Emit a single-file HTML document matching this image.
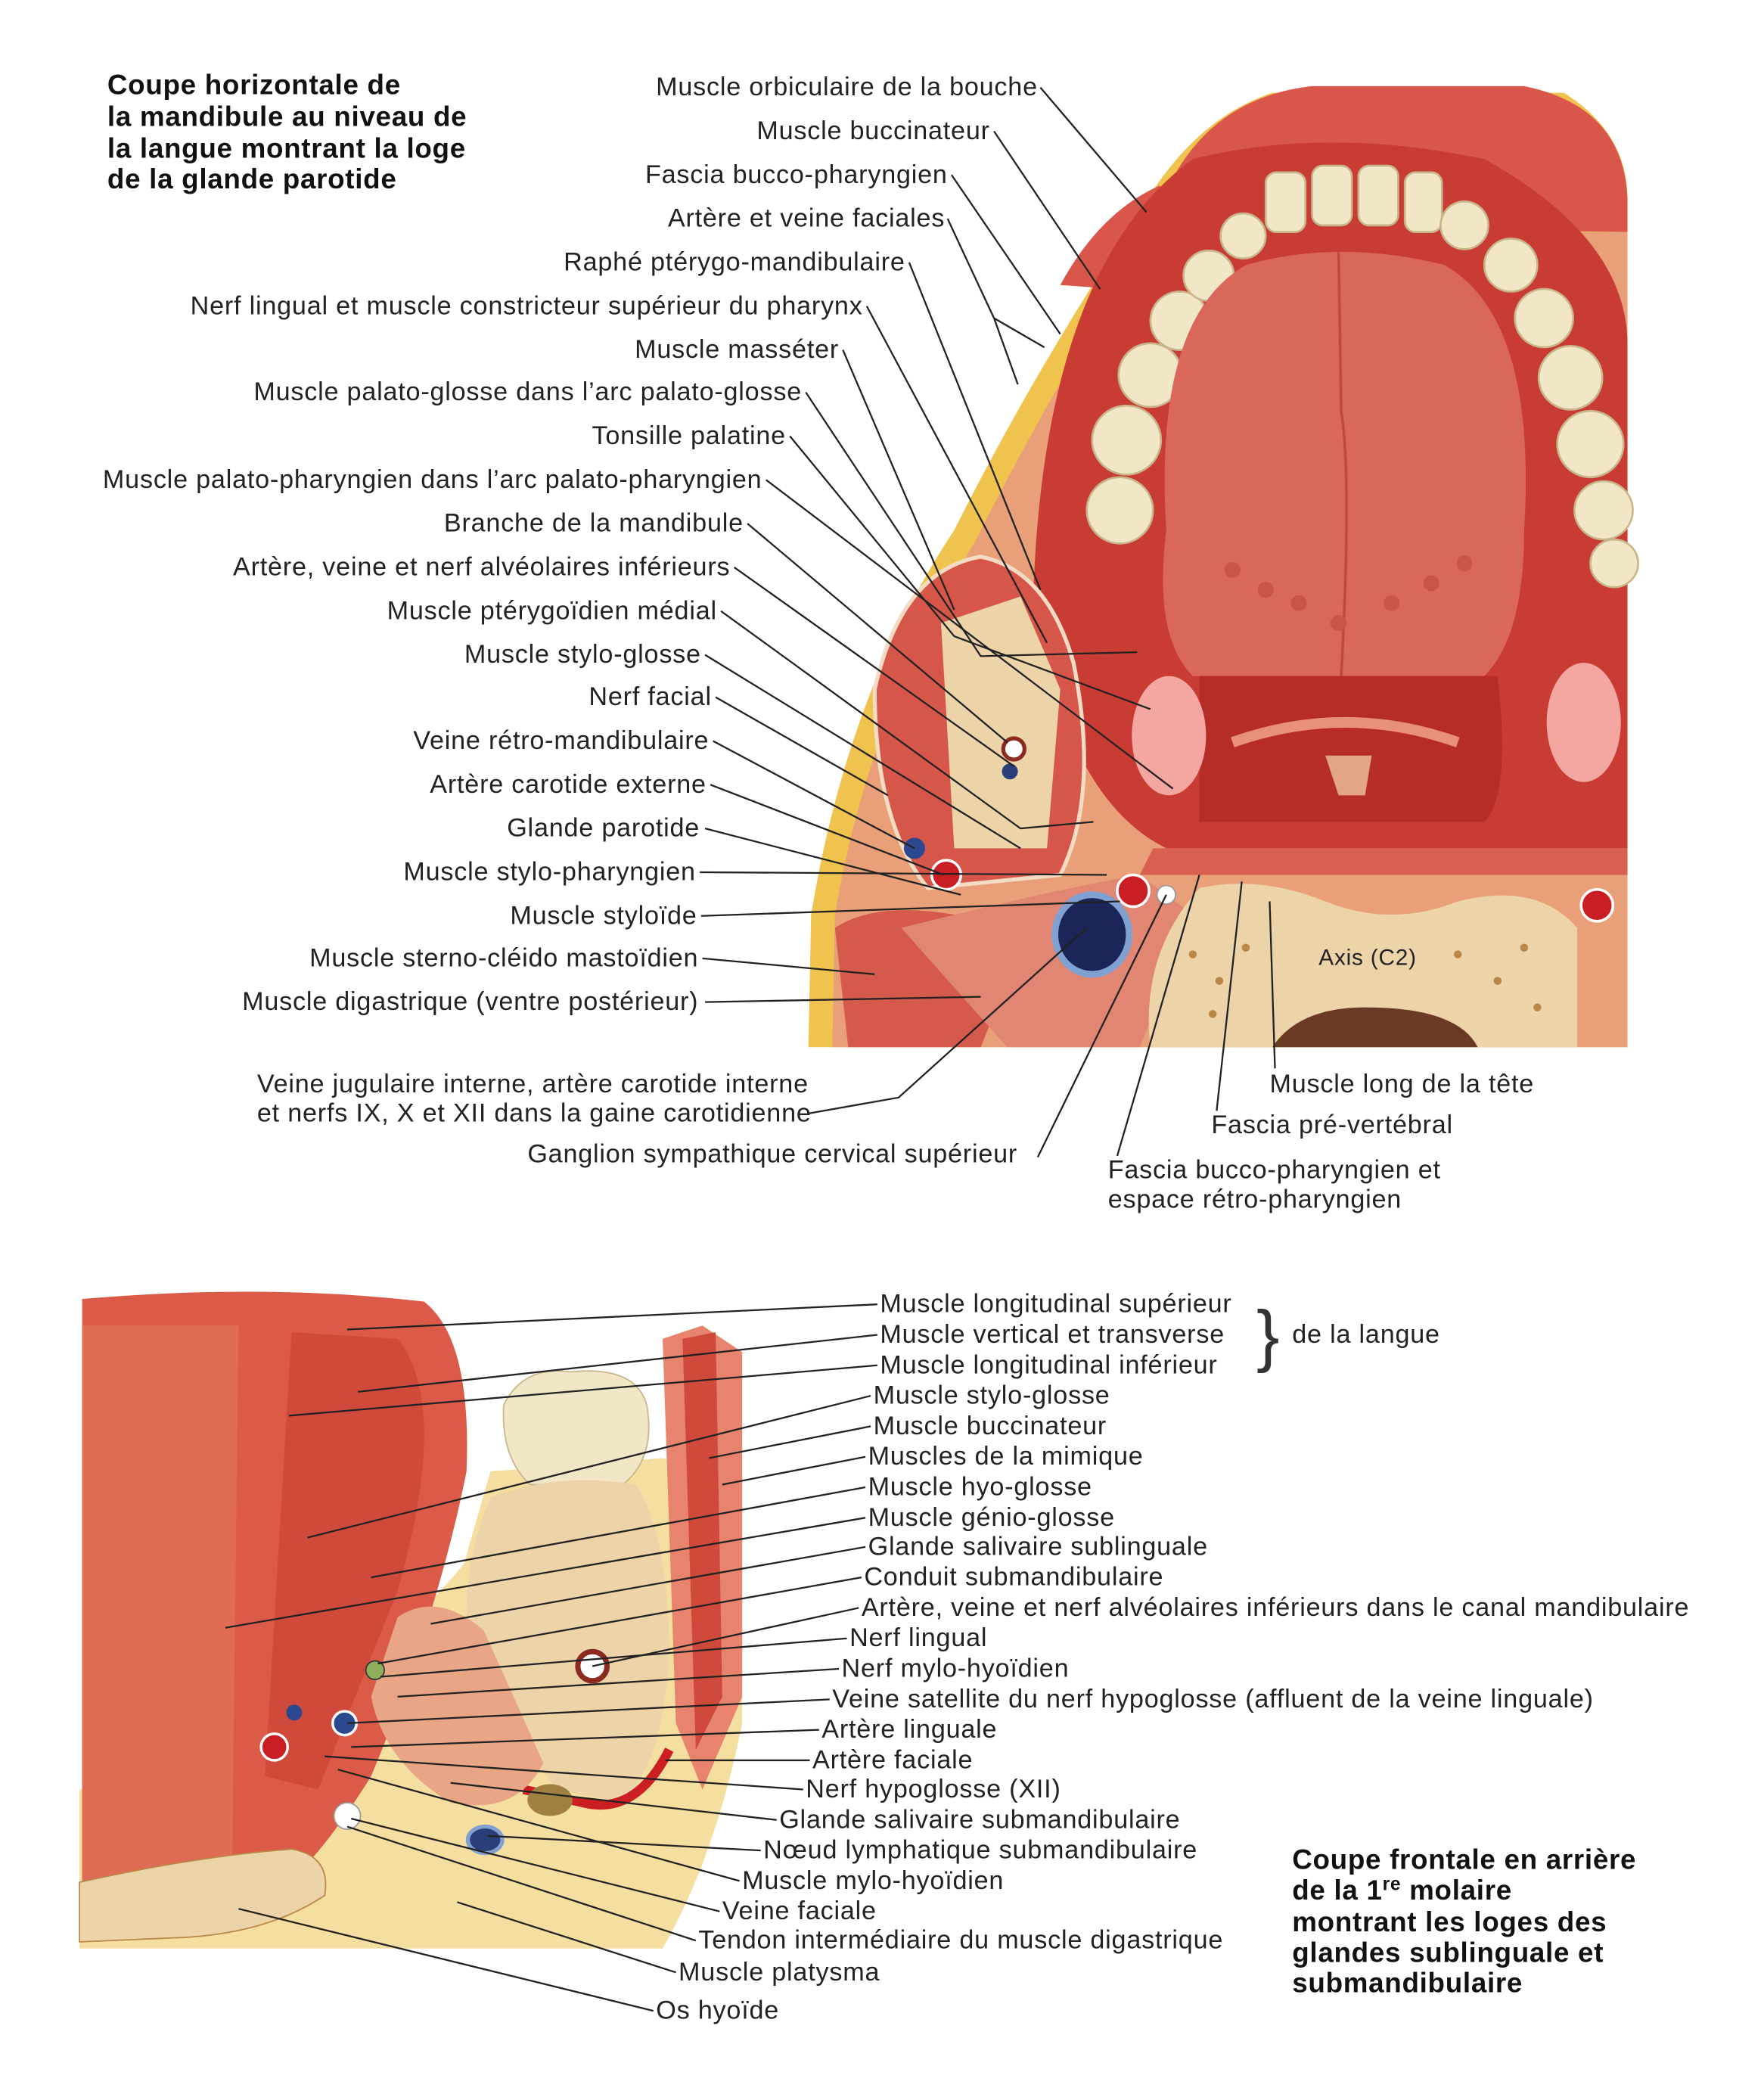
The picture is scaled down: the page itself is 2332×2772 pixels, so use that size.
<!DOCTYPE html>
<html><head><meta charset="utf-8"><style>
html,body{margin:0;padding:0;background:#fff;}
svg{display:block;}
text{font-family:"Liberation Sans",sans-serif;font-size:19.5px;letter-spacing:0.45px;fill:#222;}
.t{font-weight:bold;font-size:21px;letter-spacing:0.4px;fill:#111;}
</style></head><body>
<svg width="2332" height="2772" viewBox="0 0 1331 1582" preserveAspectRatio="none" xmlns="http://www.w3.org/2000/svg">
<rect width="1331" height="1582" fill="#fff"/>
<!-- TOP ILLUSTRATION -->
<path d="M610 790 L612 690 Q640 520 720 400 Q780 280 860 160 Q900 90 960 70 L1180 70 Q1228 100 1228 150 L1228 790 Z" fill="#f0c24e"/>
<path d="M628 790 L630 690 Q655 540 735 410 Q795 290 870 175 L1228 175 L1228 790 Z" fill="#e9a078"/>
<path d="M870 170 Q900 75 990 65 L1150 65 Q1225 80 1228 150 L1228 175 Z" fill="#d9574a"/>
<path d="M800 215 Q830 160 875 140 L900 180 L870 220 Z" fill="#d9574a"/>
<path d="M780 440 Q790 200 900 120 Q1000 95 1120 120 Q1228 180 1228 260 L1228 640 L880 640 Q800 600 780 440 Z" fill="#c93c33"/>
<g fill="#f1e6c6" stroke="#c9b58a" stroke-width="1.5">
<circle cx="845" cy="385" r="25"/><circle cx="850" cy="332" r="26"/><circle cx="868" cy="283" r="24"/>
<circle cx="890" cy="242" r="22"/><circle cx="912" cy="208" r="19"/><circle cx="938" cy="178" r="17"/>
<rect x="955" y="130" width="30" height="45" rx="8"/><rect x="990" y="125" width="30" height="45" rx="8"/>
<rect x="1025" y="125" width="30" height="45" rx="8"/><rect x="1060" y="130" width="28" height="45" rx="8"/>
<circle cx="1105" cy="170" r="18"/><circle cx="1140" cy="200" r="20"/><circle cx="1165" cy="240" r="22"/>
<circle cx="1185" cy="285" r="24"/><circle cx="1200" cy="335" r="25"/><circle cx="1210" cy="385" r="22"/><circle cx="1218" cy="425" r="18"/>
</g>
<path d="M880 400 Q870 240 940 200 Q1010 180 1090 200 Q1160 240 1150 400 Q1150 480 1120 510 L900 510 Q870 480 880 400 Z" fill="#d9675a"/>
<path d="M1010 190 L1012 310 Q1020 360 1012 510" stroke="#c0493f" stroke-width="2" fill="none"/>
<g fill="#c85548"><circle cx="930" cy="430" r="6"/><circle cx="955" cy="445" r="6"/><circle cx="980" cy="455" r="6"/><circle cx="1050" cy="455" r="6"/><circle cx="1080" cy="440" r="6"/><circle cx="1105" cy="425" r="6"/><circle cx="1010" cy="470" r="6"/></g>
<path d="M905 510 L1130 510 Q1140 600 1120 620 L905 620 Z" fill="#b62c26"/>
<path d="M930 560 Q1015 530 1100 560" stroke="#e9907a" stroke-width="8" fill="none"/>
<path d="M1000 570 L1010 600 L1030 600 L1035 570 Z" fill="#e4a486"/>
<ellipse cx="882" cy="555" rx="28" ry="45" fill="#f3a7a0"/>
<ellipse cx="1195" cy="545" rx="28" ry="45" fill="#f3a7a0"/>
<path d="M870 640 L1228 640 L1228 660 L860 660 Z" fill="#d7604f"/>
<path d="M660 520 Q680 430 740 420 Q790 430 810 500 Q830 600 800 660 L700 670 Q660 620 660 520 Z" fill="#d6574a" stroke="#f4dcc4" stroke-width="3"/>
<path d="M710 470 L770 450 L800 520 L790 640 L720 640 Z" fill="#ecd3a8"/>
<circle cx="765" cy="565" r="8" fill="#fff" stroke="#8a2a20" stroke-width="3"/>
<circle cx="762" cy="582" r="6" fill="#2a3e7a"/>
<circle cx="690" cy="640" r="8" fill="#2c4990"/>
<circle cx="714" cy="660" r="11" fill="#c81e24" stroke="#fff" stroke-width="2"/>
<path d="M630 700 Q660 680 720 690 L760 740 L740 790 L640 790 Z" fill="#d65a4c"/>
<path d="M680 700 Q800 670 860 660 L900 690 L860 790 L760 790 Z" fill="#e08672"/>
<ellipse cx="824" cy="705" rx="28" ry="30" fill="#1b2557" stroke="#7fa0d0" stroke-width="5"/>
<circle cx="855" cy="672" r="12" fill="#c81e24" stroke="#fff" stroke-width="2"/>
<circle cx="880" cy="675" r="7" fill="#fff" stroke="#999"/>
<circle cx="1205" cy="683" r="12" fill="#c81e24" stroke="#fff" stroke-width="2"/>
<path d="M905 670 Q950 660 1000 680 Q1050 700 1100 680 Q1160 665 1190 700 L1190 790 L868 790 Q860 720 905 670 Z" fill="#ecd3a8"/>
<path d="M960 790 Q980 760 1030 760 Q1100 760 1115 790 Z" fill="#6b3a24"/>
<g fill="#b98746"><circle cx="900" cy="720" r="3"/><circle cx="920" cy="740" r="3"/><circle cx="940" cy="715" r="3"/><circle cx="1100" cy="720" r="3"/><circle cx="1130" cy="740" r="3"/><circle cx="1150" cy="715" r="3"/><circle cx="915" cy="765" r="3"/><circle cx="1160" cy="760" r="3"/></g>
<text x="995" y="728" style="font-size:17px">Axis (C2)</text>

<text class="t" x="81" y="71">Coupe horizontale de</text>
<text class="t" x="81" y="95">la mandibule au niveau de</text>
<text class="t" x="81" y="119">la langue montrant la loge</text>
<text class="t" x="81" y="142">de la glande parotide</text>

<g text-anchor="end">
<text x="783" y="72">Muscle orbiculaire de la bouche</text>
<text x="747" y="105">Muscle buccinateur</text>
<text x="715" y="138">Fascia bucco-pharyngien</text>
<text x="713" y="171">Artère et veine faciales</text>
<text x="683" y="204">Raphé ptérygo-mandibulaire</text>
<text x="651" y="237">Nerf lingual et muscle constricteur supérieur du pharynx</text>
<text x="633" y="270">Muscle masséter</text>
<text x="605" y="302">Muscle palato-glosse dans l’arc palato-glosse</text>
<text x="593" y="335">Tonsille palatine</text>
<text x="575" y="368">Muscle palato-pharyngien dans l’arc palato-pharyngien</text>
<text x="561" y="401">Branche de la mandibule</text>
<text x="551" y="434">Artère, veine et nerf alvéolaires inférieurs</text>
<text x="541" y="467">Muscle ptérygoïdien médial</text>
<text x="529" y="500">Muscle stylo-glosse</text>
<text x="537" y="532">Nerf facial</text>
<text x="535" y="565">Veine rétro-mandibulaire</text>
<text x="533" y="598">Artère carotide externe</text>
<text x="528" y="631">Glande parotide</text>
<text x="525" y="664">Muscle stylo-pharyngien</text>
<text x="526" y="697">Muscle styloïde</text>
<text x="527" y="729">Muscle sterno-cléido mastoïdien</text>
<text x="527" y="762">Muscle digastrique (ventre postérieur)</text>
</g>
<text x="194" y="824">Veine jugulaire interne, artère carotide interne</text>
<text x="194" y="846">et nerfs IX, X et XII dans la gaine carotidienne</text>
<text x="398" y="877">Ganglion sympathique cervical supérieur</text>
<text x="836" y="889">Fascia bucco-pharyngien et</text>
<text x="836" y="911">espace rétro-pharyngien</text>
<text x="914" y="855">Fascia pré-vertébral</text>
<text x="958" y="824">Muscle long de la tête</text>

<g stroke="#222" stroke-width="1.3" fill="none">
<path d="M785 66 L865 160"/><path d="M750 99 L830 218"/><path d="M718 132 L800 252"/>
<path d="M715 165 L750 240 L788 262 M750 240 L768 290"/>
<path d="M686 198 L785 445"/><path d="M654 231 L790 485"/><path d="M636 264 L720 460"/>
<path d="M608 296 L740 495 L858 492"/><path d="M596 329 L720 480 L868 535"/>
<path d="M578 362 L885 595"/><path d="M564 395 L760 560"/><path d="M554 428 L765 578"/>
<path d="M544 461 L770 625 L825 620"/><path d="M532 494 L770 640"/>
<path d="M540 526 L670 600"/><path d="M538 559 L690 640"/><path d="M536 592 L712 660"/>
<path d="M532 625 L725 675"/><path d="M528 658 L835 660"/><path d="M529 691 L845 680"/>
<path d="M530 723 L660 735"/><path d="M532 756 L740 752"/>
<path d="M610 840 L678 828 L820 700"/><path d="M783 873 L880 675"/>
<path d="M843 872 L905 660"/><path d="M918 838 L937 665"/><path d="M962 806 L958 680"/>
</g>

<!-- BOTTOM ILLUSTRATION -->
<path d="M60 1470 L60 1350 Q250 1300 350 1180 L370 1110 L500 1100 L560 1120 L560 1300 Q540 1400 500 1470 Z" fill="#f5dfa0"/>
<path d="M62 980 Q200 968 320 982 Q356 1010 352 1110 Q330 1220 280 1340 Q230 1420 200 1430 L62 1440 Z" fill="#dc5a48"/>
<path d="M62 1000 L180 1000 L175 1420 L62 1430 Z" fill="#e06c56"/>
<path d="M220 1005 L300 1010 Q340 1060 300 1200 L240 1350 L200 1340 Z" fill="#d04a3c"/>
<path d="M500 1010 L530 1000 L560 1020 L560 1280 L530 1350 L510 1300 Z" fill="#e8846e"/>
<path d="M515 1010 L540 1005 L545 1280 L525 1320 Z" fill="#d04a3c"/>
<path d="M380 1060 Q395 1030 430 1035 Q480 1030 488 1060 Q495 1100 470 1120 L400 1120 Q378 1100 380 1060 Z" fill="#f1e6c6" stroke="#c9b58a"/>
<path d="M370 1130 Q420 1110 480 1120 Q505 1160 505 1250 Q500 1330 470 1360 L420 1350 L360 1270 Q340 1200 370 1130 Z" fill="#ecd3a8"/>
<path d="M505 1320 Q480 1370 440 1360 L395 1350" stroke="#cc1f24" stroke-width="7" fill="none"/>
<circle cx="447" cy="1257" r="11" fill="#fff" stroke="#8a2a20" stroke-width="4"/>
<path d="M300 1220 Q330 1200 365 1230 L410 1330 Q390 1370 340 1360 Q290 1330 280 1280 Z" fill="#e8a686"/>
<circle cx="283" cy="1260" r="7" fill="#8fae5a" stroke="#333"/>
<circle cx="260" cy="1300" r="9" fill="#2c4990" stroke="#fff" stroke-width="2"/>
<circle cx="207" cy="1318" r="10" fill="#c81e24" stroke="#fff" stroke-width="2"/>
<circle cx="222" cy="1292" r="6" fill="#2c4990"/>
<ellipse cx="366" cy="1388" rx="13" ry="10" fill="#2a3e7a" stroke="#7fa0d0" stroke-width="3"/>
<ellipse cx="415" cy="1358" rx="17" ry="12" fill="#a08040"/>
<circle cx="262" cy="1370" r="10" fill="#fff" stroke="#999"/>
<path d="M60 1420 Q150 1400 220 1395 Q250 1400 245 1430 Q200 1460 130 1462 L60 1465 Z" fill="#ecd3a8" stroke="#b98746"/>

<text x="664" y="990">Muscle longitudinal supérieur</text>
<text x="664" y="1013">Muscle vertical et transverse</text>
<text x="664" y="1036">Muscle longitudinal inférieur</text>
<text x="948" y="1025" style="font-size:52px;fill:#333;">}</text>
<text x="975" y="1013">de la langue</text>
<text x="659" y="1059">Muscle stylo-glosse</text>
<text x="659" y="1082">Muscle buccinateur</text>
<text x="655" y="1105">Muscles de la mimique</text>
<text x="655" y="1128">Muscle hyo-glosse</text>
<text x="655" y="1151">Muscle génio-glosse</text>
<text x="655" y="1173">Glande salivaire sublinguale</text>
<text x="652" y="1196">Conduit submandibulaire</text>
<text x="650" y="1219">Artère, veine et nerf alvéolaires inférieurs dans le canal mandibulaire</text>
<text x="641" y="1242">Nerf lingual</text>
<text x="635" y="1265">Nerf mylo-hyoïdien</text>
<text x="628" y="1288">Veine satellite du nerf hypoglosse (affluent de la veine linguale)</text>
<text x="620" y="1311">Artère linguale</text>
<text x="613" y="1334">Artère faciale</text>
<text x="608" y="1356">Nerf hypoglosse (XII)</text>
<text x="588" y="1379">Glande salivaire submandibulaire</text>
<text x="576" y="1402">Nœud lymphatique submandibulaire</text>
<text x="560" y="1425">Muscle mylo-hyoïdien</text>
<text x="545" y="1448">Veine faciale</text>
<text x="527" y="1470">Tendon intermédiaire du muscle digastrique</text>
<text x="512" y="1494">Muscle platysma</text>
<text x="495" y="1523">Os hyoïde</text>

<g stroke="#222" stroke-width="1.3" fill="none">
<path d="M662 984 L262 1003"/><path d="M662 1007 L270 1050"/><path d="M662 1030 L218 1068"/>
<path d="M657 1053 L232 1160"/><path d="M657 1076 L535 1100"/><path d="M653 1099 L545 1120"/>
<path d="M653 1122 L280 1190"/><path d="M653 1145 L170 1228"/><path d="M653 1167 L325 1225"/>
<path d="M650 1190 L285 1255"/><path d="M648 1213 L447 1257"/><path d="M639 1236 L287 1265"/>
<path d="M633 1259 L300 1280"/><path d="M626 1282 L262 1300"/><path d="M618 1305 L265 1318"/>
<path d="M611 1328 L502 1328"/><path d="M606 1350 L245 1325"/><path d="M586 1373 L340 1345"/>
<path d="M574 1396 L368 1385"/><path d="M558 1419 L255 1335"/><path d="M543 1442 L265 1372"/>
<path d="M525 1464 L262 1378"/><path d="M510 1488 L345 1435"/><path d="M493 1517 L180 1440"/>
</g>

<text class="t" x="975" y="1410">Coupe frontale en arrière</text>
<text class="t" x="975" y="1433">de la 1<tspan dy="-7" style="font-size:14px">re</tspan><tspan dy="7"> molaire</tspan></text>
<text class="t" x="975" y="1457">montrant les loges des</text>
<text class="t" x="975" y="1480">glandes sublinguale et</text>
<text class="t" x="975" y="1503">submandibulaire</text>
</svg>
</body></html>
